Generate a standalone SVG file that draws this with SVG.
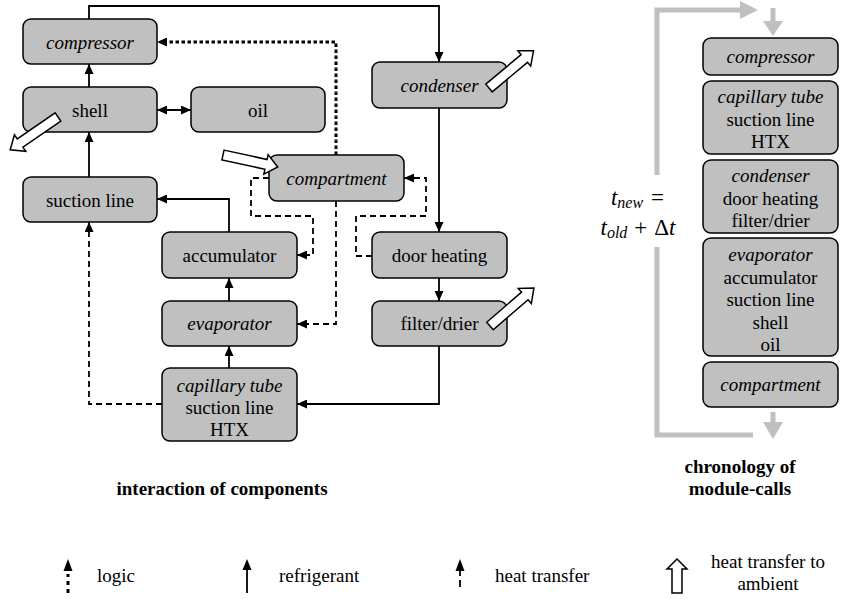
<svg xmlns="http://www.w3.org/2000/svg" width="841" height="599" viewBox="0 0 841 599">
<style>
.box{fill:#c0c0c0;stroke:#000;stroke-width:1.5}
.it{font-style:italic}
.b{font-weight:bold}
.sol{fill:none;stroke:#000;stroke-width:1.8}
.dash{fill:none;stroke:#000;stroke-width:1.8;stroke-dasharray:6 4}
.dot{fill:none;stroke:#000;stroke-width:3;stroke-dasharray:3.5 2.5}
.amb{fill:#fff;stroke:#000;stroke-width:1.5;stroke-linejoin:miter}
.gray{fill:none;stroke:#c0c0c0;stroke-width:5}
.grayf{fill:#c0c0c0}
.lt{text-anchor:start}
</style>
<defs>
<marker id="ah" markerUnits="userSpaceOnUse" markerWidth="10" markerHeight="9" viewBox="0 0 10 9" refX="10" refY="4.5" orient="auto-start-reverse"><path d="M0,0 L10,4.5 L0,9 z" fill="#000"/></marker>
<marker id="ahd" markerUnits="userSpaceOnUse" markerWidth="10" markerHeight="9" viewBox="0 0 10 9" refX="3" refY="4.5" orient="auto"><path d="M0,0 L10,4.5 L0,9 z" fill="#000"/></marker>
</defs>
<g font-family="Liberation Serif, Times New Roman, DejaVu Serif, serif" font-size="19" text-anchor="middle" fill="#000">

<g id="connectors">
<path class="sol" d="M89,19 V6 H439 V62" marker-end="url(#ah)"/>
<path class="sol" d="M89,87 V64" marker-end="url(#ah)"/>
<path class="sol" d="M89,177 V132" marker-end="url(#ah)"/>
<path class="sol" d="M157,110 H191" marker-start="url(#ah)" marker-end="url(#ah)"/>
<path class="sol" d="M439,108 V232" marker-end="url(#ah)"/>
<path class="sol" d="M439,278 V301" marker-end="url(#ah)"/>
<path class="sol" d="M439,346 V404 H297" marker-end="url(#ah)"/>
<path class="sol" d="M229,368 V346" marker-end="url(#ah)"/>
<path class="sol" d="M229,301 V278" marker-end="url(#ah)"/>
<path class="sol" d="M229,232 V199 H157" marker-end="url(#ah)"/>
<path class="dot" d="M336,155 V42 H164" marker-end="url(#ahd)"/>
<path class="dash" d="M336,201 V324 H297" marker-end="url(#ah)"/>
<path class="dash" d="M269,178 H251 V216 H313 V255 H297" marker-end="url(#ah)"/>
<path class="dash" d="M372,256 H356 V216 H426 V178 H404" marker-end="url(#ah)"/>
<path class="dash" d="M162,404 H89 V222" marker-end="url(#ah)"/>
</g>

<g id="compressor"><rect class="box" x="23" y="19" width="134" height="45" rx="8"/><text class="it" x="90" y="49">compressor</text></g>
<g id="shell"><rect class="box" x="23" y="87" width="134" height="45" rx="8"/><text x="90" y="117">shell</text></g>
<g id="oil"><rect class="box" x="191" y="87" width="134" height="45" rx="8"/><text x="258" y="117">oil</text></g>
<g id="suction-line"><rect class="box" x="23" y="177" width="134" height="45" rx="8"/><text x="90" y="207">suction line</text></g>
<g id="compartment"><rect class="box" x="269" y="155" width="135" height="46" rx="8"/><text class="it" x="336.5" y="185">compartment</text></g>
<g id="condenser"><rect class="box" x="372" y="62" width="135" height="46" rx="8"/><text class="it" x="439.5" y="92">condenser</text></g>
<g id="accumulator"><rect class="box" x="162" y="232" width="135" height="46" rx="8"/><text x="229.5" y="262">accumulator</text></g>
<g id="evaporator"><rect class="box" x="162" y="301" width="135" height="45" rx="8"/><text class="it" x="229.5" y="330">evaporator</text></g>
<g id="door-heating"><rect class="box" x="372" y="232" width="135" height="46" rx="8"/><text x="439.5" y="262">door heating</text></g>
<g id="filter-drier"><rect class="box" x="372" y="301" width="135" height="45" rx="8"/><text x="439.5" y="330">filter/drier</text></g>
<g id="capillary-tube"><rect class="box" x="162" y="368" width="135" height="73" rx="8"/>
<text class="it" x="229.5" y="392">capillary tube</text><text x="229.5" y="414">suction line</text><text x="229.5" y="436">HTX</text></g>

<g id="ambient-arrows">
<polygon class="amb" transform="translate(58,117) rotate(145.5)" points="0,-5 46,-5 46,-10 58,0 46,10 46,5 0,5"/>
<polygon class="amb" transform="translate(223,155) rotate(12.3)" points="0,-5 44,-5 44,-10 56,0 44,10 44,5 0,5"/>
<polygon class="amb" transform="translate(489,88) rotate(-39.9)" points="0,-5 46,-5 46,-10 58,0 46,10 46,5 0,5"/>
<polygon class="amb" transform="translate(490,326) rotate(-40.8)" points="0,-5 46,-5 46,-10 58,0 46,10 46,5 0,5"/>
</g>

<text class="b" x="222" y="495">interaction of components</text>

<g id="chronology-loop">
<path class="gray" d="M657,175 V10 H741"/>
<polygon class="grayf" points="740,1 758,10 740,19"/>
<path class="gray" d="M773,8 V22"/>
<polygon class="grayf" points="763,21 783,21 773,36"/>
<path class="gray" d="M657,247 V435 H753"/>
<path class="gray" d="M773,412 V423"/>
<polygon class="grayf" points="763,422 783,422 773,439"/>
</g>
<g id="c-compressor"><rect class="box" x="703" y="38" width="135" height="37" rx="8"/><text class="it" x="770.5" y="63">compressor</text></g>
<g id="c-capillary"><rect class="box" x="703" y="81" width="135" height="73" rx="8"/>
<text class="it" x="770.5" y="103">capillary tube</text><text x="770.5" y="125.5">suction line</text><text x="770.5" y="148">HTX</text></g>
<g id="c-condenser"><rect class="box" x="703" y="160" width="135" height="73" rx="8"/>
<text class="it" x="770.5" y="182">condenser</text><text x="770.5" y="204.5">door heating</text><text x="770.5" y="227">filter/drier</text></g>
<g id="c-evaporator"><rect class="box" x="703" y="238" width="135" height="118" rx="8"/>
<text class="it" x="770.5" y="261">evaporator</text><text x="770.5" y="283.5">accumulator</text><text x="770.5" y="306">suction line</text><text x="770.5" y="328.5">shell</text><text x="770.5" y="351">oil</text></g>
<g id="c-compartment"><rect class="box" x="703" y="362" width="135" height="45" rx="8"/><text class="it" x="770.5" y="391">compartment</text></g>

<text x="637.5" y="205" font-size="23"><tspan class="it">t</tspan><tspan class="it" font-size="16" dy="3">new</tspan><tspan dy="-3" dx="8">=</tspan></text>
<text x="638" y="235" font-size="23"><tspan class="it">t</tspan><tspan class="it" font-size="16" dy="3">old</tspan><tspan dy="-3" dx="7">+</tspan><tspan dx="7">Δ</tspan><tspan class="it">t</tspan></text>

<text class="b" x="740" y="473">chronology of</text>
<text class="b" x="740" y="495">module-calls</text>

<g id="legend">
<path d="M68,593 V574" style="fill:none;stroke:#000;stroke-width:3;stroke-dasharray:4 4"/>
<polygon points="68,559 63.5,571 72.5,571" fill="#000"/>
<text class="lt" x="97" y="582">logic</text>
<path class="sol" d="M247,593 V568"/>
<polygon points="247,559 242.5,570 251.5,570" fill="#000"/>
<text class="lt" x="279" y="582">refrigerant</text>
<path class="sol" d="M460,587 V580 M460,576 V569"/>
<polygon points="460,559 455.5,571 464.5,571" fill="#000"/>
<text class="lt" x="495" y="582">heat transfer</text>
<polygon class="amb" points="672,593 672,569 667,569 677,559 687,569 682,569 682,593"/>
<text x="768" y="568">heat transfer to</text>
<text x="768" y="590">ambient</text>
</g>
</g>
</svg>
